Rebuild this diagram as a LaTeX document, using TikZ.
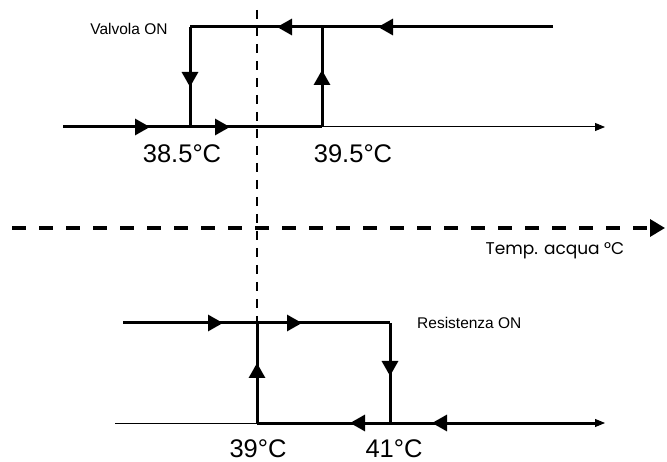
\documentclass[tikz,border=0pt]{standalone}
\usepackage{fontspec}
\setmainfont{Liberation Sans}
\newfontfamily\geofont{Poppins}
\usetikzlibrary{arrows.meta,decorations.markings}
\begin{document}
\begin{tikzpicture}[x=1pt,y=-1pt,
  heavy/.style={line width=3pt},
  light/.style={line width=1pt},
  bigtip/.style={decoration={markings,mark=at position #1 with {\arrow{Triangle[length=15pt,width=16pt]}}},postaction={decorate}},
  twotips/.style 2 args={decoration={markings,
      mark=at position #1 with {\arrow{Triangle[length=15pt,width=16pt]}},
      mark=at position #2 with {\arrow{Triangle[length=15pt,width=16pt]}}},postaction={decorate}},
  axistip/.style={-{Triangle[length=10pt,width=8pt]}},
  guide/.style={line width=2.8pt,dash pattern=on 9pt off 8pt},
  tempaxis/.style={line width=3.3pt,dash pattern=on 14pt off 13pt,-{Triangle[length=15pt,width=17pt]}},
  temp/.style={font=\fontsize{25.5}{28}\selectfont,anchor=base,inner sep=0pt},
  state/.style={font=\fontsize{15.5}{18}\selectfont,anchor=base,inner sep=0pt}
]
\useasboundingbox (0,0) rectangle (667,462);

% --- top diagram: Valvola ON
\coordinate (A) at (63,127);
\coordinate (B) at (190,127);
\coordinate (C) at (322,127);
\coordinate (D) at (190,27);
\coordinate (E) at (322,27);
\coordinate (F) at (553,27);
\coordinate (Aend) at (605,127);

\draw[light,axistip] (C) -- (Aend);
\draw[heavy,twotips={87pt}{167pt}] (A) -- (B) -- (C);
\draw[heavy,bigtip=60pt] (D) -- (B);
\draw[heavy,bigtip=57pt] (C) -- (E);
\draw[heavy,twotips={175pt}{276pt}] (F) -- (E) -- (D);

\node[state] (valv) at (129,35) {Valvola ON};
\node[temp] (t385) at (182,163) {38.5°C};
\node[temp] (t395) at (353,163) {39.5°C};

% --- guide line and temperature axis
\coordinate (V1) at (257,10);
\coordinate (V2) at (257,323);
\draw[guide] (V1) -- (V2);
\coordinate (T1) at (12,228);
\coordinate (T2) at (665,228);
\draw[tempaxis] (T1) -- (T2);
\node[anchor=base,inner sep=0pt,font=\geofont\fontsize{17}{20}\selectfont] (tlab) at (555,255) {Temp. acqua °C};

% --- bottom diagram: Resistenza ON
\coordinate (G) at (123,323);
\coordinate (H) at (257,323);
\coordinate (I) at (390,323);
\coordinate (J) at (257,423);
\coordinate (K) at (390,423);
\coordinate (M) at (597,423);
\coordinate (N) at (115,423);
\coordinate (Nend) at (605,423);

\draw[light,axistip] (N) -- (Nend);
\draw[heavy,twotips={100pt}{179pt}] (G) -- (H) -- (I);
\draw[heavy,bigtip=60pt] (J) -- (H);
\draw[heavy,bigtip=53pt] (I) -- (K);
\draw[heavy,twotips={165pt}{247pt}] (M) -- (K) -- (J);

\node[state,anchor=base west] (res) at (417,329) {Resistenza ON};
\node[temp] (t39) at (258,457) {39°C};
\node[temp] (t41) at (394,457) {41°C};
\end{tikzpicture}
\end{document}
